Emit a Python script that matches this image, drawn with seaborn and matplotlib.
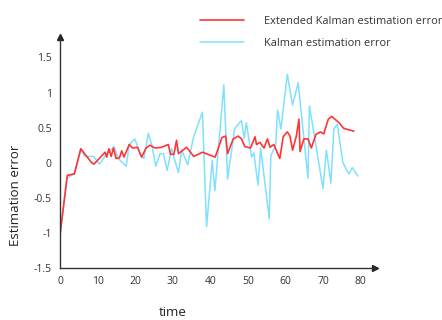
import matplotlib
matplotlib.use("Agg")
import matplotlib.pyplot as plt
import seaborn as sns
import pandas as pd

# vertices
time_ekf = [0, 1.9, 3.8, 5.5, 8.4, 9, 12, 12.4, 13, 13.6, 14.2, 14.9, 15.8, 16.4, 17,
            18.4, 19.3, 20.6, 21.7, 22.9, 23.9, 25.3, 27, 28.8, 29.4, 30.3, 31, 31.5,
            33.7, 35.6, 37.9, 41.3, 43.1, 44.1, 44.6, 46.1, 47.4, 48.3, 49.2, 50.7,
            51.9, 52.3, 53.2, 54.3, 55.2, 55.9, 56.9, 58.5, 59.4, 60.5, 61.2, 61.9,
            62.9, 63.6, 63.9, 64.9, 66, 66.9, 68.1, 69.3, 70.2, 71.4, 72.3, 74.3, 75.5, 78.2]
err_ekf = [-1.02, -0.18, -0.16, 0.2, 0.0, -0.02, 0.15, 0.08, 0.2, 0.09, 0.21, 0.06, 0.07,
           0.17, 0.08, 0.26, 0.21, 0.22, 0.08, 0.21, 0.25, 0.21, 0.22, 0.26, 0.12, 0.12,
           0.32, 0.13, 0.22, 0.09, 0.15, 0.08, 0.36, 0.38, 0.13, 0.34, 0.38, 0.34, 0.23,
           0.21, 0.37, 0.26, 0.29, 0.21, 0.34, 0.22, 0.26, 0.06, 0.37, 0.44, 0.38, 0.18,
           0.38, 0.62, 0.16, 0.34, 0.34, 0.21, 0.40, 0.44, 0.41, 0.62, 0.66, 0.57, 0.49, 0.45]

time_kf = [0, 1.9, 3.8, 5.5, 6.6, 8.9, 10.5, 12, 14.4, 15.5, 17.6, 18.4, 19.9, 21.3, 22.3,
           23.5, 24.4, 25.5, 26.6, 27.5, 28.5, 29.7, 30.3, 31.5, 32.4, 34, 35.5, 37.9, 39,
           40.5, 41.2, 43.6, 44.6, 46.5, 48.3, 49, 49.6, 51, 51.6, 52.7, 53.4, 55.7, 56.1,
           57.4, 57.9, 58.8, 60.5, 61.9, 63.4, 66.0, 66.4, 70, 70.9, 72.1, 72.9, 73.8,
           75.3, 76.9, 77.8, 79.3]
err_kf = [-1.0, -0.22, -0.15, 0.18, 0.09, 0.09, -0.02, 0.1, 0.23, 0.06, -0.05, 0.26, 0.34,
          0.13, 0.06, 0.42, 0.26, -0.05, 0.13, 0.13, -0.11, 0.2, 0.08, -0.14, 0.18, -0.03,
          0.36, 0.72, -0.91, 0.03, -0.4, 1.11, -0.23, 0.49, 0.6, 0.35, 0.57, 0.08, 0.14,
          -0.32, 0.21, -0.8, 0.1, 0.25, 0.75, 0.48, 1.26, 0.82, 1.14, -0.22, 0.81, -0.37,
          0.18, -0.29, 0.48, 0.55, 0.0, -0.16, -0.07, -0.19]

x_ticks = [0, 10, 20, 30, 40, 50, 60, 70, 80]
y_ticks = [-1.5, -1, -0.5, 0, 0.5, 1, 1.5]
y_tick_labels = ['-1.5', '-1', '-0.5', '0', '0.5', '1', '1.5']

sns.set_style("white")
plt.rcParams['font.family'] = ['Open Sans', 'DejaVu Sans']

df_kf = pd.DataFrame({'time': time_kf, 'err': err_kf})
df_ekf = pd.DataFrame({'time': time_ekf, 'err': err_ekf})

fig = plt.figure(figsize=(4.42, 3.2), dpi=100)
ax = fig.add_axes([0.136, 0.1625, 0.712, 0.7215])

sns.lineplot(data=df_kf, x='time', y='err', ax=ax, color='#80e0ff', linewidth=1.1,
             label='Kalman estimation error')
sns.lineplot(data=df_ekf, x='time', y='err', ax=ax, color='#ff3535', linewidth=1.2,
             label='Extended Kalman estimation error')

ax.set_xlim(0, 83.8)
ax.set_ylim(-1.5, 1.79)
ax.set_xticks(x_ticks)
ax.set_xticklabels([str(t) for t in x_ticks])
ax.set_yticks(y_ticks)
ax.set_yticklabels(y_tick_labels)
ax.tick_params(direction='in', length=6, width=1, color='#333333',
               labelsize=7.5, labelcolor='#333333', pad=6)
ax.set_xlabel('')
ax.set_ylabel('')
for side in ['top', 'right']:
    ax.spines[side].set_visible(False)
for side in ['left', 'bottom']:
    ax.spines[side].set_color('#333333')
    ax.spines[side].set_linewidth(1)

# axis arrows
ax.plot(1, 0, '>', color='#222222', markersize=4, transform=ax.transAxes, clip_on=False)
ax.plot(0, 1, '^', color='#222222', markersize=4, transform=ax.transAxes, clip_on=False)

fig.text(0.391, 0.022, 'time', fontsize=9.5, color='#222222', ha='center', va='center')
fig.text(0.035, 0.39, 'Estimation error', fontsize=9.5, color='#222222',
         rotation=90, ha='center', va='center')

handles, labels = ax.get_legend_handles_labels()
ax.legend(handles[::-1], labels[::-1], loc='upper left', bbox_to_anchor=(0.441, 0.968),
          bbox_transform=fig.transFigure, frameon=False, fontsize=7.9,
          handlelength=4.0, handletextpad=1.8, labelspacing=1.05, borderpad=0,
          labelcolor='#333333')

fig.savefig('out.png', dpi=100)
